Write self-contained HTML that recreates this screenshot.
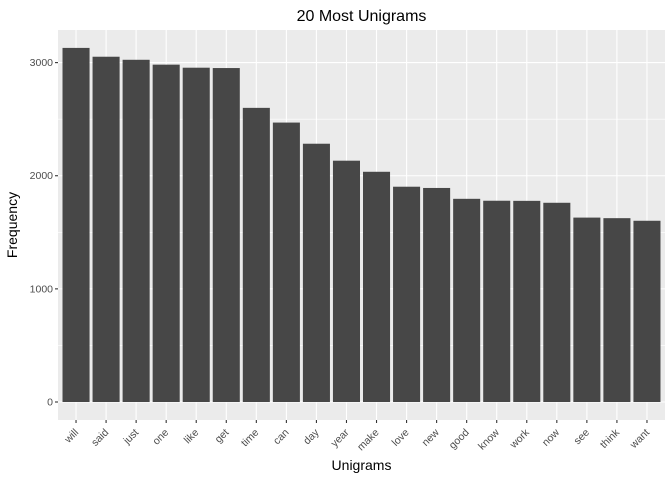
<!DOCTYPE html>
<html><head><meta charset="utf-8"><style>
body{margin:0;background:#fff;}
svg{display:block;font-family:"Liberation Sans",sans-serif;}
</style></head><body>
<svg id="chart" width="672" height="480"></svg>
<script>
const categories=["will","said","just","one","like","get","time","can","day","year","make","love","new","good","know","work","now","see","think","want"];
const values=[3130,3052,3025,2982,2955,2952,2600,2470,2283,2133,2035,1903,1892,1796,1779,1778,1761,1630,1625,1602];
const yTicks=[0,1000,2000,3000];
const yMinor=[500,1500,2500];
const NS="http://www.w3.org/2000/svg";
const svg=document.getElementById('chart');
const pL=58,pR=665,pT=30,pB=420;
const y=v=>402-v*0.11313;
const step=(pR-pL)/(categories.length-1+1.2);
const x=i=>pL+step*(0.6+i);
function mk(t,a,p){const e=document.createElementNS(NS,t);for(const k in a)e.setAttribute(k,a[k]);(p||svg).appendChild(e);return e;}
const bg=mk('rect',{x:pL,y:pT,width:pR-pL,height:pB-pT,fill:'#ebebeb'});


yMinor.forEach(v=>{const l=mk('line',{x1:pL,x2:pR,y1:y(v),y2:y(v),stroke:'#fff','stroke-width':0.6});

});
yTicks.forEach(v=>{const l=mk('line',{x1:pL,x2:pR,y1:y(v),y2:y(v),stroke:'#fff','stroke-width':1.1});


const t=mk('line',{x1:pL-3,x2:pL,y1:y(v),y2:y(v),stroke:'#333','stroke-width':1.1});


const tx=mk('text',{x:pL-5,y:y(v)+3.5,'text-anchor':'end','font-size':10.5,fill:'#4d4d4d'});tx.textContent=v;

});
categories.forEach((c,i)=>{const cx=x(i);
const g=mk('line',{x1:cx,x2:cx,y1:pT,y2:pB,stroke:'#fff','stroke-width':1.1});

});
categories.forEach((c,i)=>{const cx=x(i),w=step*0.9;
const b=mk('rect',{x:cx-w/2,y:y(values[i]),width:w,height:y(0)-y(values[i]),fill:'#474747'});


const t=mk('line',{x1:cx,x2:cx,y1:pB,y2:pB+3,stroke:'#333','stroke-width':1.1});


const tx=mk('text',{x:cx+3,y:pB+13,'text-anchor':'end','font-size':10.5,fill:'#4d4d4d',transform:`rotate(-45 ${cx+3} ${pB+13})`});tx.textContent=c;

});
const title=mk('text',{x:(pL+pR)/2,y:21,'text-anchor':'middle','font-size':16,fill:'#000'});title.textContent='20 Most Unigrams';


const xt=mk('text',{x:(pL+pR)/2,y:470,'text-anchor':'middle','font-size':14,fill:'#000'});xt.textContent='Unigrams';


const yt=mk('text',{x:17,y:225,'text-anchor':'middle','font-size':14,fill:'#000',transform:'rotate(-90 17 225)'});yt.textContent='Frequency';


</script>
</body></html>
